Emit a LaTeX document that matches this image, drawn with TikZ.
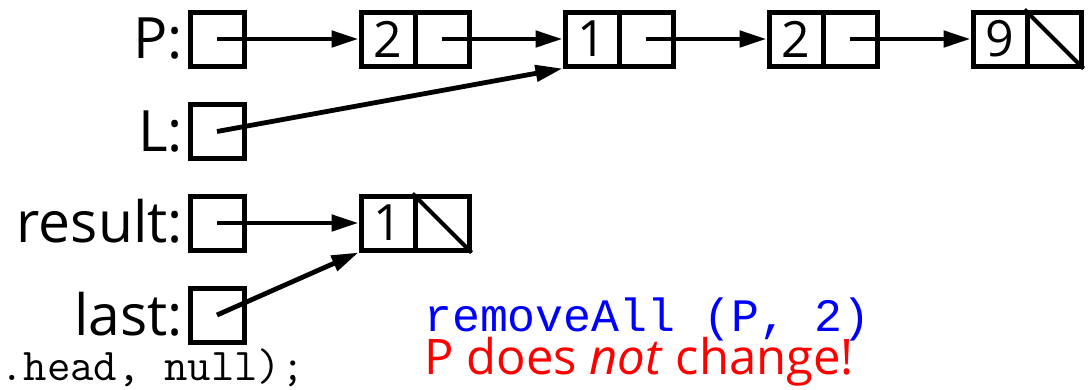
\documentclass[tikz,border=0pt]{standalone}
\usepackage{fontspec}
\setmainfont{Open Sans}
\newfontfamily\codefont{Liberation Mono}
\usetikzlibrary{arrows.meta}
\begin{document}
\begin{tikzpicture}[x=1pt,y=-1pt,
  cell/.style={draw,line width=5pt,minimum width=54pt,minimum height=54pt,inner sep=0pt,
    font=\fontsize{50}{52}\selectfont},
  lbl/.style={anchor=base east,inner sep=0pt,font=\fontsize{57}{60}\selectfont},
  ptr/.style={line width=4.8pt,-{Triangle[length=27pt,width=16pt]}},
  nul/.style={line width=4pt}]
\useasboundingbox (0,0) rectangle (1091,389);
% variables
\node[cell] (P) at (217,39) {};
\node[cell] (L) at (217,131.5) {};
\node[cell] (R) at (217,223) {};
\node[cell] (T) at (217,315) {};
\node[lbl] (Pl) at (183,58) {P:};
\node[lbl] (Ll) at (183,151) {L:};
\node[lbl] (Rl) at (183,242) {result:};
\node[lbl] (Tl) at (183,335) {last:};
% list P
\node[cell] (a1) at (388,39) {2};
\node[cell] (a1p) at (442,39) {};
\node[cell] (a2) at (592,39) {1};
\node[cell] (a2p) at (646,39) {};
\node[cell] (a3) at (796,39) {2};
\node[cell] (a3p) at (850,39) {};
\node[cell] (a4) at (1000,39) {9};
\node[cell] (a4p) at (1054,39) {};
% result list
\node[cell] (b1) at (388,223) {1};
\node[cell] (b1p) at (442,223) {};
% pointers
\draw[ptr] (P.center) -- (a1.west);
\draw[ptr] (a1p.center) -- (a2.west);
\draw[ptr] (a2p.center) -- (a3.west);
\draw[ptr] (a3p.center) -- (a4.west);
\draw[ptr] (L.center) -- (a2.south west);
\draw[ptr] (R.center) -- (b1.west);
\draw[ptr] (T.center) -- (b1.south west);
\draw[nul] (a4p.north west) -- (a4p.south east);
\draw[nul] (b1p.north west) -- (b1p.south east);
% texts
\node[anchor=base west,inner sep=0pt,text=blue,font=\codefont\fontsize{46.5}{48}\selectfont] (call) at (424,331) {removeAll (P, 2)};
\node[anchor=base west,inner sep=0pt,text=red,font=\fontsize{49}{52}\selectfont] (note) at (424,374) {P does \emph{not} change!};
\node[anchor=base west,inner sep=0pt,font=\ttfamily\fontsize{45.5}{48}\selectfont] (code) at (0,380) {.head, null);};
\end{tikzpicture}
\end{document}
